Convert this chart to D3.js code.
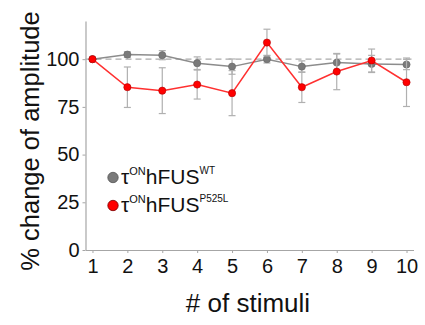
<!DOCTYPE html>
<html>
<head>
<meta charset="utf-8">
<script src="https://cdn.jsdelivr.net/npm/d3@7"></script>
<style>
  body { margin: 0; background: #fff; }
  text { font-family: "Liberation Sans", Arial, sans-serif; }
</style>
</head>
<body>
<svg id="chart" width="425" height="325"></svg>
<script>
var stimuli = [1, 2, 3, 4, 5, 6, 7, 8, 9, 10];
var wtMean = [100, 102.4, 102.1, 97.9, 96.1, 100, 96.1, 98.2, 97.5, 97.2];
var wtErr = [0, 1.5, 2.4, 3.3, 4, 2, 3, 4.5, 4.5, 2.7];
var mutMean = [100, 85.3, 83.5, 86.7, 82.2, 108.7, 85.3, 93.5, 99.3, 87.9];
var mutErr = [0, 10.6, 12, 7.6, 11.8, 7, 8, 9.5, 6, 12.7];
var yTicks = [0, 25, 50, 75, 100];

var svg = d3.select("#chart");

var x = d3.scaleLinear().domain([0.8, 10.2]).range([85.5, 413.5]);
var y = d3.scaleLinear().domain([0, 120]).range([250, 21]);

var axisColor = "#a6a6a6";

// x axis
var gx = svg.append("g").attr("transform", "translate(0,250)")
  .call(d3.axisBottom(x).tickValues(stimuli).tickSizeInner(3).tickSizeOuter(0).tickPadding(5));
gx.select(".domain").attr("stroke", axisColor).attr("stroke-width", 1.2);
gx.selectAll(".tick line").attr("stroke", axisColor);
gx.selectAll(".tick text").attr("fill", "#111").style("font-size", "20px").attr("dy", "0.75em");

// y axis
var gy = svg.append("g").attr("transform", "translate(85.5,0)")
  .call(d3.axisLeft(y).tickValues(yTicks).tickSizeInner(3).tickSizeOuter(0).tickPadding(3));
gy.select(".domain").attr("stroke", axisColor).attr("stroke-width", 1.2);
gy.selectAll(".tick line").attr("stroke", axisColor);
gy.selectAll(".tick text").attr("fill", "#111").style("font-size", "20px");

// reference line at 100
svg.append("line")
  .attr("x1", x(0.8)).attr("x2", x(10.2))
  .attr("y1", y(100)).attr("y2", y(100))
  .attr("stroke", "#aaaaaa").attr("stroke-width", 1.2)
  .attr("stroke-dasharray", "6,4");

function series(mean, err, lineColor, dotColor, dotStroke, barColor) {
  var data = stimuli.map(function(s, i) { return { s: s, m: mean[i], e: err[i] }; });
  var g = svg.append("g");
  var bars = g.selectAll(".bar").data(data.filter(function(d) { return d.e > 0; }))
    .enter().append("g").attr("stroke", barColor).attr("stroke-width", 1.2);
  bars.append("line")
    .attr("x1", function(d) { return x(d.s); }).attr("x2", function(d) { return x(d.s); })
    .attr("y1", function(d) { return y(d.m + d.e); }).attr("y2", function(d) { return y(d.m - d.e); });
  bars.append("line")
    .attr("x1", function(d) { return x(d.s) - 3.5; }).attr("x2", function(d) { return x(d.s) + 3.5; })
    .attr("y1", function(d) { return y(d.m + d.e); }).attr("y2", function(d) { return y(d.m + d.e); });
  bars.append("line")
    .attr("x1", function(d) { return x(d.s) - 3.5; }).attr("x2", function(d) { return x(d.s) + 3.5; })
    .attr("y1", function(d) { return y(d.m - d.e); }).attr("y2", function(d) { return y(d.m - d.e); });

  var line = d3.line().x(function(d) { return x(d.s); }).y(function(d) { return y(d.m); });
  g.append("path").datum(data).attr("d", line)
    .attr("fill", "none").attr("stroke", lineColor).attr("stroke-width", 1.5);
  g.selectAll("circle").data(data).enter().append("circle")
    .attr("cx", function(d) { return x(d.s); }).attr("cy", function(d) { return y(d.m); })
    .attr("r", 3.6).attr("fill", dotColor).attr("stroke", dotStroke).attr("stroke-width", 0.6);
}

series(wtMean, wtErr, "#8c8c8c", "#7a7a7a", "#666", "#b0b0b0");
series(mutMean, mutErr, "#ff3030", "#ff0000", "#b00000", "#b0b0b0");

// legend
var legend = [
  { color: "#7a7a7a", stroke: "#555", sup: "WT", cy: 177.5 },
  { color: "#ff0000", stroke: "#700", sup: "P525L", cy: 205.5 }
];
legend.forEach(function(l) {
  svg.append("circle").attr("cx", 113).attr("cy", l.cy).attr("r", 5.2)
    .attr("fill", l.color).attr("stroke", l.stroke).attr("stroke-width", 0.8);
  var t = svg.append("text").attr("x", 121).attr("y", l.cy + 6.5)
    .style("font-size", "21px").attr("fill", "#111");
  t.append("tspan").text("τ");
  t.append("tspan").attr("dy", -9).style("font-size", "11px").text("ON");
  t.append("tspan").attr("dy", 9).text("hFUS");
  t.append("tspan").attr("dy", -10).style("font-size", "10px").text(l.sup);
});

// axis titles
svg.append("text").attr("x", 248).attr("y", 312).attr("text-anchor", "middle")
  .style("font-size", "26px").attr("fill", "#111").text("# of stimuli");
svg.append("text").attr("transform", "translate(39,141) rotate(-90)").attr("text-anchor", "middle")
  .style("font-size", "25.5px").attr("fill", "#111").text("% change of amplitude");
</script>
</body>
</html>
